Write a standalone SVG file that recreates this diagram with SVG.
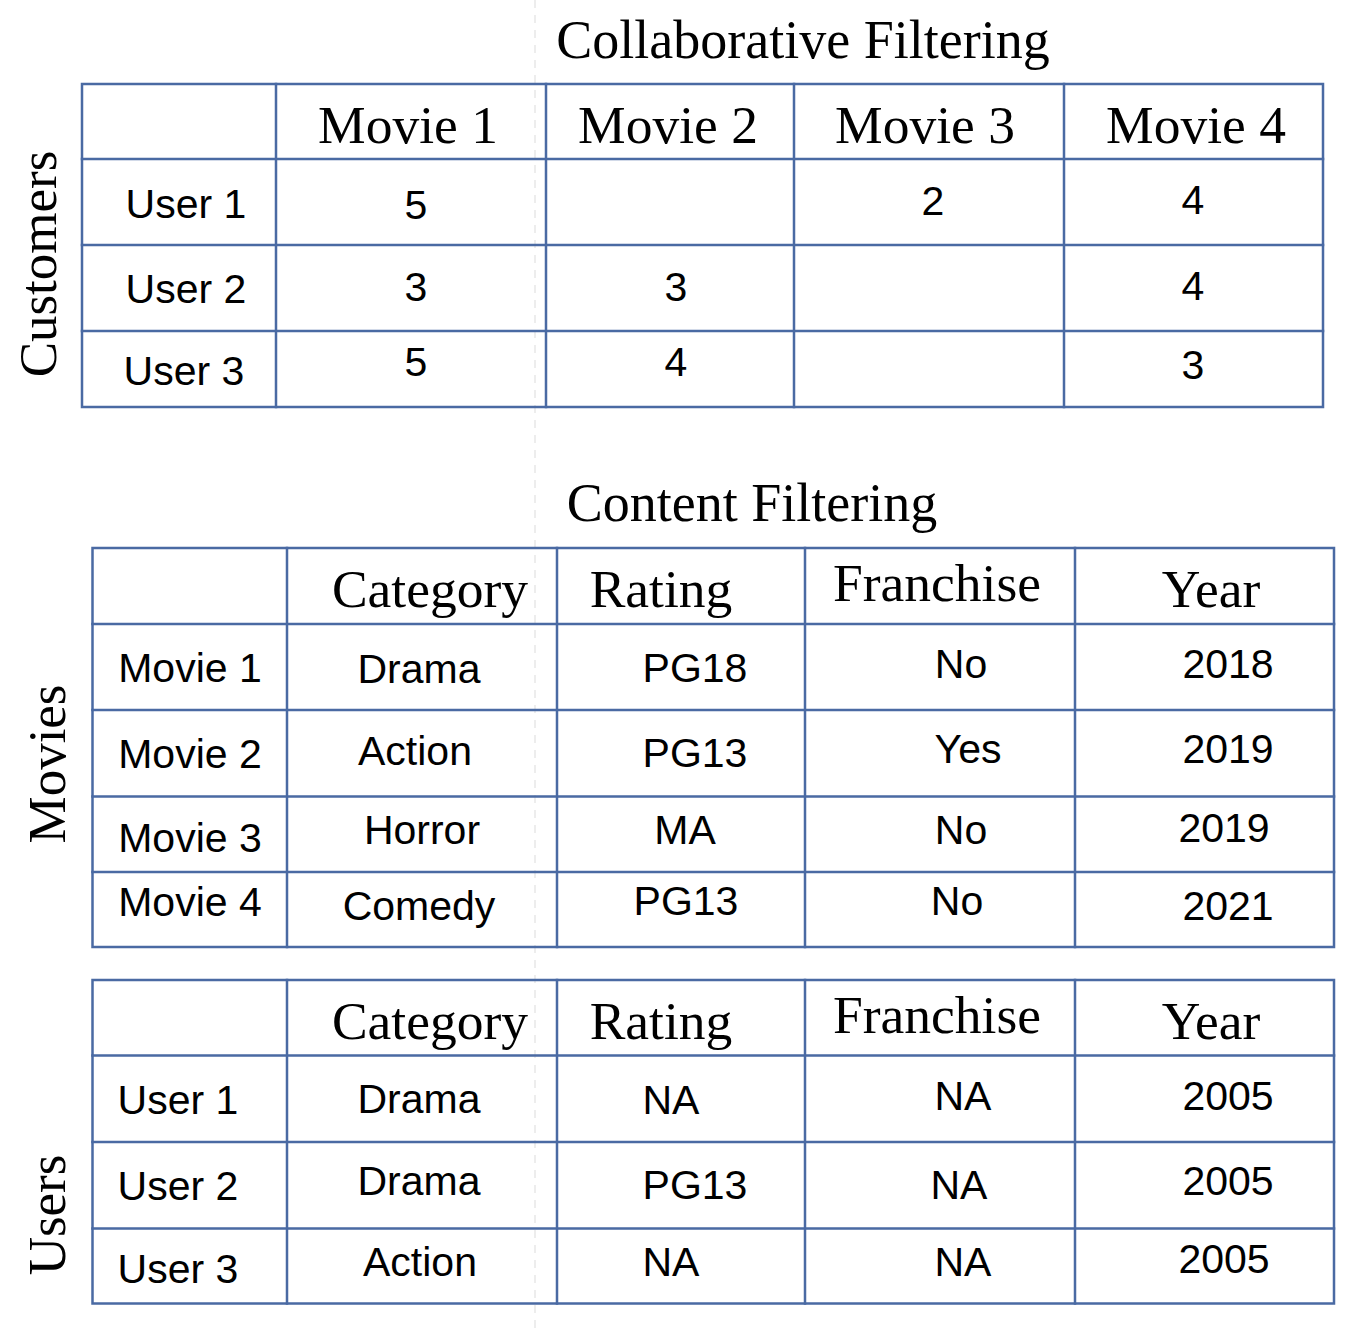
<svg xmlns="http://www.w3.org/2000/svg" width="1358" height="1328" viewBox="0 0 1358 1328">
<style>
  .grid { fill: none; stroke: #4a6aa3; stroke-width: 2.5; stroke-linecap: square; }
  .title { font-family: "Liberation Serif", "Times New Roman", serif; font-size: 54px; fill: #000; text-anchor: middle; }
  .hdr { font-family: "Liberation Serif", "Times New Roman", serif; font-size: 53.5px; fill: #000; text-anchor: middle; }
  .side { font-family: "Liberation Serif", "Times New Roman", serif; font-size: 53px; fill: #000; text-anchor: middle; }
  .cell { font-family: "Liberation Sans", Arial, sans-serif; font-size: 41px; fill: #000; text-anchor: middle; }
  .guide { stroke: #e2e2e2; stroke-width: 1.2; stroke-dasharray: 8 7; fill: none; }
</style>
<rect width="1358" height="1328" fill="#fff"/>
<line class="guide" x1="535" y1="0" x2="535" y2="1328"/>

<g id="collaborative-filtering">
  <text class="title" x="803" y="58">Collaborative Filtering</text>
  <text class="side" transform="translate(56 264) rotate(-90)">Customers</text>
  <rect class="grid" x="82" y="84" width="1241" height="323"/>
  <path class="grid" d="M82 159H1323M82 245H1323M82 331H1323M276 84V407M546 84V407M794 84V407M1064 84V407"/>
  <text class="hdr" x="408" y="143">Movie 1</text>
  <text class="hdr" x="668" y="143">Movie 2</text>
  <text class="hdr" x="925" y="143">Movie 3</text>
  <text class="hdr" x="1196" y="143">Movie 4</text>
  <text class="cell" x="186" y="218">User 1</text>
  <text class="cell" x="186" y="303">User 2</text>
  <text class="cell" x="184" y="385">User 3</text>
  <text class="cell" x="416" y="219">5</text>
  <text class="cell" x="933" y="215">2</text>
  <text class="cell" x="1193" y="214">4</text>
  <text class="cell" x="416" y="301">3</text>
  <text class="cell" x="676" y="301">3</text>
  <text class="cell" x="1193" y="300">4</text>
  <text class="cell" x="416" y="376">5</text>
  <text class="cell" x="676" y="376">4</text>
  <text class="cell" x="1193" y="379">3</text>
</g>

<g id="content-filtering-movies">
  <text class="title" x="752" y="521">Content Filtering</text>
  <text class="side" transform="translate(65 764) rotate(-90)">Movies</text>
  <rect class="grid" x="92.5" y="548" width="1241.5" height="399"/>
  <path class="grid" d="M92.5 624H1334M92.5 710H1334M92.5 796.5H1334M92.5 872H1334M287 548V947M557 548V947M805 548V947M1075 548V947"/>
  <text class="hdr" x="430" y="607">Category</text>
  <text class="hdr" x="661" y="607">Rating</text>
  <text class="hdr" x="937" y="601">Franchise</text>
  <text class="hdr" x="1211" y="607">Year</text>
  <text class="cell" x="190" y="682">Movie 1</text>
  <text class="cell" x="190" y="768">Movie 2</text>
  <text class="cell" x="190" y="852">Movie 3</text>
  <text class="cell" x="190" y="916">Movie 4</text>
  <text class="cell" x="419" y="683">Drama</text>
  <text class="cell" x="695" y="682">PG18</text>
  <text class="cell" x="961" y="678">No</text>
  <text class="cell" x="1228" y="678">2018</text>
  <text class="cell" x="415" y="765">Action</text>
  <text class="cell" x="695" y="767">PG13</text>
  <text class="cell" x="968" y="763">Yes</text>
  <text class="cell" x="1228" y="763">2019</text>
  <text class="cell" x="422" y="844">Horror</text>
  <text class="cell" x="685" y="844">MA</text>
  <text class="cell" x="961" y="844">No</text>
  <text class="cell" x="1224" y="842">2019</text>
  <text class="cell" x="419" y="920">Comedy</text>
  <text class="cell" x="686" y="915">PG13</text>
  <text class="cell" x="957" y="915">No</text>
  <text class="cell" x="1228" y="920">2021</text>
</g>

<g id="content-filtering-users">
  <text class="side" transform="translate(65 1215) rotate(-90)">Users</text>
  <rect class="grid" x="92.5" y="980" width="1241.5" height="323.5"/>
  <path class="grid" d="M92.5 1055.5H1334M92.5 1142H1334M92.5 1228.5H1334M287 980V1303.5M557 980V1303.5M805 980V1303.5M1075 980V1303.5"/>
  <text class="hdr" x="430" y="1039">Category</text>
  <text class="hdr" x="661" y="1039">Rating</text>
  <text class="hdr" x="937" y="1033">Franchise</text>
  <text class="hdr" x="1211" y="1039">Year</text>
  <text class="cell" x="178" y="1114">User 1</text>
  <text class="cell" x="178" y="1200">User 2</text>
  <text class="cell" x="178" y="1283">User 3</text>
  <text class="cell" x="419" y="1113">Drama</text>
  <text class="cell" x="671" y="1114">NA</text>
  <text class="cell" x="963" y="1110">NA</text>
  <text class="cell" x="1228" y="1110">2005</text>
  <text class="cell" x="419" y="1195">Drama</text>
  <text class="cell" x="695" y="1199">PG13</text>
  <text class="cell" x="959" y="1199">NA</text>
  <text class="cell" x="1228" y="1195">2005</text>
  <text class="cell" x="420" y="1276">Action</text>
  <text class="cell" x="671" y="1276">NA</text>
  <text class="cell" x="963" y="1276">NA</text>
  <text class="cell" x="1224" y="1273">2005</text>
</g>
</svg>
